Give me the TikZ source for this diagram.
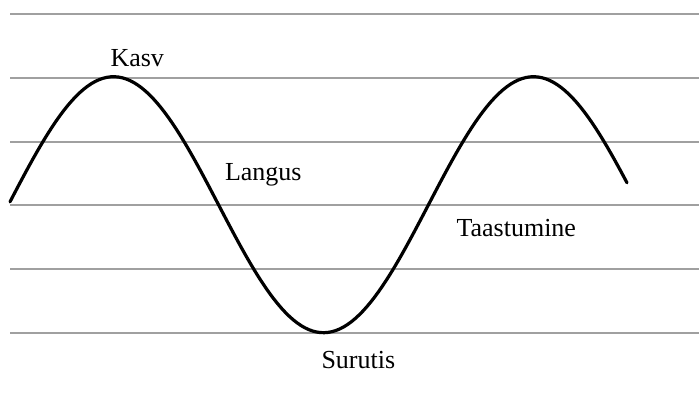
\documentclass[tikz,border=0pt]{standalone}
\usepackage{fontspec}
\setmainfont{Liberation Serif}
\begin{document}
\begin{tikzpicture}[x=1pt,y=-1pt,
  gridline/.style={draw={rgb,255:red,160;green,160;blue,160},line width=2pt},
  wave/.style={draw=black,line width=3.2pt,line cap=round,line join=round},
  phaselabel/.style={inner sep=0pt,outer sep=0pt,anchor=base west,text=black,font=\fontsize{26}{31}\selectfont}]
\path[use as bounding box] (0,0) rectangle (699,394);
\draw[gridline] (10,13.5) -- (699,13.5);
\draw[gridline] (10,77.5) -- (699,77.5);
\draw[gridline] (10,141.5) -- (699,141.5);
\draw[gridline] (10,204.8) -- (699,204.8);
\draw[gridline] (10,268.5) -- (699,268.5);
\draw[gridline] (10,332.5) -- (699,332.5);
\draw[wave] plot[domain=10:627,samples=160] (\x,{204.7-128*sin((\x-8.5)*0.857143)});
\node[phaselabel] (kasv) at (110.5,66.5) {Kasv};
\node[phaselabel] (langus) at (225,180.5) {Langus};
\node[phaselabel] (taastumine) at (456.5,236.5) {Taastumine};
\node[phaselabel] (surutis) at (321.5,368.3) {Surutis};
\end{tikzpicture}
\end{document}
